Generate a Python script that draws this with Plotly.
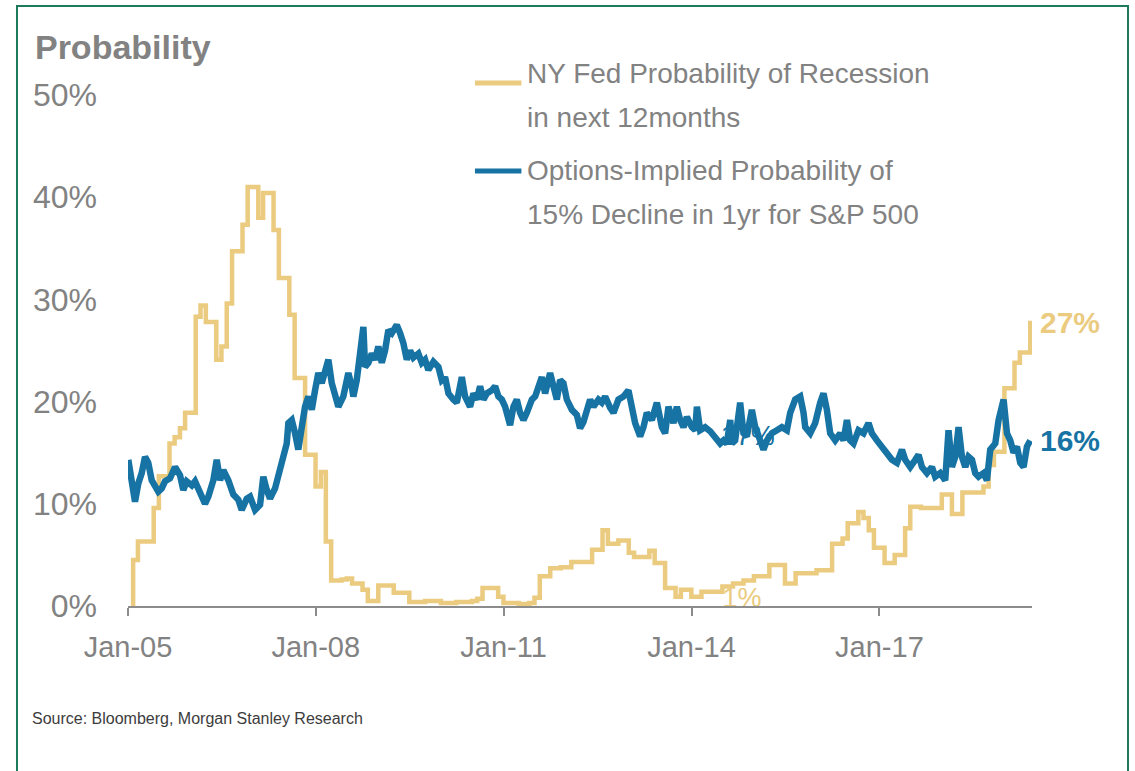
import plotly.graph_objects as go
import pandas as pd

# ---------------- data ----------------
# NY Fed probability of recession in next 12 months (monthly, %), Jan-2005 .. Jun-2019
gold_vals = [
    0, 4.5, 6.3, 6.3, 6.3, 9.6, 12.7, 12.7, 15.9, 16.5,
    17.4, 18.9, 18.9, 28.3, 29.4, 27.8, 27.8, 24.1, 25.4, 29.6,
    34.7, 34.7, 37.3, 41.0, 41.0, 38.0, 40.4, 40.4, 36.8, 32.1,
    32.1, 28.5, 22.3, 22.3, 14.8, 14.8, 11.7, 13.1, 6.3, 2.5,
    2.5, 2.6, 2.7, 2.2, 2.2, 1.6, 0.5, 0.5, 2.0, 2.0,
    2.0, 1.3, 1.3, 1.3, 0.4, 0.4, 0.4, 0.5, 0.5, 0.5,
    0.3, 0.3, 0.3, 0.4, 0.4, 0.4, 0.5, 0.7, 1.75, 1.75,
    1.75, 0.9, 0.3, 0.3, 0.3, 0.2, 0.2, 0.3, 0.8, 2.9,
    2.9, 3.7, 3.7, 3.8, 3.8, 4.3, 4.3, 4.3, 4.3, 5.5,
    5.5, 7.4, 6.1, 6.1, 6.4, 6.4, 5.2, 4.8, 4.8, 4.8,
    5.4, 4.2, 4.2, 1.75, 1.75, 0.9, 1.6, 1.6, 0.9, 0.9,
    1.4, 1.4, 1.4, 1.4, 1.9, 1.9, 2.2, 2.2, 2.5, 2.5,
    2.9, 2.9, 2.9, 4.0, 4.0, 4.0, 2.2, 2.2, 3.2, 3.2,
    3.2, 3.2, 3.5, 3.5, 3.5, 6.1, 6.1, 6.6, 8.1, 8.1,
    9.2, 8.6, 7.4, 5.7, 5.7, 4.2, 4.2, 5.0, 5.0, 7.6,
    9.7, 9.7, 9.6, 9.6, 9.6, 9.6, 10.9, 10.9, 9.0, 9.0,
    11.1, 11.1, 11.1, 11.1, 11.7, 13.8, 15.1, 15.1, 21.3, 21.3,
    23.8, 24.8, 24.8, 27.7,
]

# Options-implied probability of 15% decline in 1yr for S&P 500 (%)
# time given in years elapsed since 1 Jan 2005
blue_years = [
    0.005, 0.032, 0.085, 0.112, 0.165, 0.219, 0.272, 0.324, 0.379, 0.431,
    0.484, 0.538, 0.591, 0.671, 0.751, 0.831, 0.883, 0.938, 1.018, 1.070,
    1.150, 1.230, 1.283, 1.363, 1.417, 1.470, 1.522, 1.602, 1.682, 1.762,
    1.816, 1.896, 1.949, 2.029, 2.109, 2.161, 2.216, 2.268, 2.348, 2.401,
    2.481, 2.535, 2.561, 2.615, 2.668, 2.720, 2.775, 2.827, 2.880, 2.935,
    2.987, 3.040, 3.094, 3.147, 3.200, 3.254, 3.307, 3.359, 3.439, 3.519,
    3.573, 3.599, 3.653, 3.706, 3.759, 3.786, 3.839, 3.893, 3.946, 3.998,
    4.053, 4.105, 4.158, 4.212, 4.292, 4.345, 4.398, 4.452, 4.505, 4.558,
    4.637, 4.692, 4.744, 4.797, 4.877, 4.957, 5.011, 5.064, 5.117, 5.196,
    5.251, 5.331, 5.383, 5.463, 5.516, 5.570, 5.623, 5.676, 5.730, 5.810,
    5.863, 5.915, 5.970, 6.022, 6.075, 6.102, 6.155, 6.209, 6.262, 6.315,
    6.369, 6.449, 6.502, 6.554, 6.609, 6.661, 6.741, 6.794, 6.848, 6.901,
    6.954, 7.008, 7.088, 7.168, 7.220, 7.273, 7.327, 7.380, 7.433, 7.513,
    7.567, 7.620, 7.700, 7.753, 7.832, 7.912, 7.992, 8.046, 8.099, 8.179,
    8.232, 8.286, 8.366, 8.446, 8.526, 8.578, 8.631, 8.711, 8.765, 8.818,
    8.871, 8.925, 9.005, 9.058, 9.085, 9.137, 9.217, 9.297, 9.377, 9.457,
    9.510, 9.564, 9.617, 9.644, 9.696, 9.776, 9.829, 9.883, 9.963, 10.016,
    10.096, 10.149, 10.203, 10.283, 10.363, 10.442, 10.522, 10.575, 10.655, 10.735,
    10.788, 10.815, 10.895, 10.974, 11.054, 11.107, 11.161, 11.214, 11.294, 11.374,
    11.427, 11.481, 11.534, 11.586, 11.666, 11.746, 11.826, 11.880, 11.960, 12.040,
    12.120, 12.200, 12.280, 12.360, 12.412, 12.492, 12.572, 12.625, 12.679, 12.759,
    12.839, 12.891, 12.971, 13.051, 13.104, 13.158, 13.211, 13.264, 13.318, 13.371,
    13.423, 13.478, 13.530, 13.583, 13.663, 13.717, 13.770, 13.850, 13.903, 13.983,
    14.037, 14.089, 14.142, 14.196, 14.249, 14.302, 14.356, 14.409,
]
blue_vals = [
    14.3, 13.3, 10.7, 10.2, 12.0, 13.0, 14.6, 14.0, 12.3, 11.8,
    11.2, 11.5, 12.2, 12.5, 13.6, 12.8, 11.35, 12.2, 11.8, 12.2,
    11.2, 10.0, 10.7, 12.3, 14.3, 12.3, 13.3, 12.3, 10.9, 10.4,
    9.4, 10.5, 10.7, 9.4, 9.9, 12.65, 11.35, 10.5, 11.5, 12.65,
    14.3, 15.9, 17.9, 18.2, 16.9, 15.3, 17.5, 19.5, 20.5, 19.2,
    21.1, 22.8, 21.8, 23.1, 24.1, 21.8, 20.5, 19.5, 20.5, 22.8,
    21.5, 20.5, 22.1, 24.4, 27.3, 23.4, 23.8, 24.7, 24.1, 25.4,
    23.8, 25.0, 27.0, 26.7, 27.5, 26.7, 25.7, 24.1, 25.0, 24.3,
    24.7, 23.8, 24.1, 23.1, 23.9, 23.4, 22.1, 22.4, 20.8, 20.2,
    19.9, 22.4, 20.5, 19.5, 20.8, 20.2, 21.5, 20.2, 20.8, 21.1,
    21.5, 20.5, 20.2, 19.5, 18.5, 17.7, 19.5, 20.2, 18.9, 18.2,
    18.9, 20.2, 20.5, 21.5, 22.4, 20.8, 22.8, 21.5, 20.2, 22.1,
    21.8, 20.2, 19.2, 18.7, 17.4, 18.0, 19.2, 20.2, 19.5, 20.2,
    19.9, 20.5, 19.4, 18.9, 20.2, 20.5, 21.1, 19.2, 17.9, 16.6,
    17.5, 18.9, 18.2, 19.9, 17.5, 16.9, 19.5, 17.9, 19.5, 18.2,
    17.5, 18.5, 17.5, 17.2, 19.5, 17.2, 17.5, 17.1, 16.6, 15.9,
    16.2, 15.9, 18.2, 15.9, 16.2, 19.9, 16.9, 16.6, 19.2, 17.5,
    16.2, 15.3, 16.2, 16.9, 17.2, 17.5, 17.2, 18.9, 20.2, 20.5,
    18.9, 17.5, 16.9, 17.9, 19.9, 20.8, 19.2, 16.9, 16.2, 16.9,
    16.2, 18.2, 16.2, 15.9, 17.2, 16.9, 17.9, 16.9, 16.2, 15.6,
    15.0, 14.3, 14.0, 15.3, 14.3, 13.6, 14.3, 14.8, 13.6, 13.0,
    13.6, 12.65, 13.0, 12.3, 17.2, 13.6, 14.6, 17.5, 14.6, 13.6,
    14.6, 14.3, 13.0, 12.65, 13.0, 12.3, 15.3, 15.9, 18.2, 20.2,
    16.9, 16.2, 15.0, 15.6, 14.0, 13.6, 15.6, 16.2,
]

x_tick_dates = ["2005-01-01", "2008-01-01", "2011-01-01", "2014-01-01", "2017-01-01"]
x_tick_labels = ["Jan-05", "Jan-08", "Jan-11", "Jan-14", "Jan-17"]
y_tick_vals = [0, 10, 20, 30, 40, 50]
y_tick_labels = ["0%", "10%", "20%", "30%", "40%", "50%"]
x_range = ["2005-01-01", "2019-06-10"]

series_names = ["NY Fed Probability of Recession", "in next 12months",
                "Options-Implied Probability of", "15% Decline in 1yr for S&P 500"]
end_labels = ["27%", "16%"]
# faint leftover labels visible in the original (partly hidden behind lines)
ghost_dates = ["2014-11-25", "2014-10-22"]
ghost_vals = [16.4, 0.6]
ghost_texts = ["17%", "1%"]

GOLD = "#EBCB7F"
BLUE = "#1673A3"
GRAY = "#828282"
FONT = "Liberation Sans, Arial, sans-serif"

gold_dates = pd.date_range("2005-01-31", periods=len(gold_vals), freq=pd.offsets.MonthEnd())
base = pd.Timestamp("2005-01-01")
blue_dates = [base + pd.Timedelta(days=y * 365.25) for y in blue_years]

fig = go.Figure()

# leftover labels underneath the lines
fig.add_trace(go.Scatter(x=[ghost_dates[0]], y=[ghost_vals[0]], mode="text",
                         text=[ghost_texts[0]], textfont=dict(family=FONT, size=27, color=BLUE),
                         hoverinfo="skip", showlegend=False))
fig.add_trace(go.Scatter(x=[ghost_dates[1]], y=[ghost_vals[1]], mode="text",
                         text=[ghost_texts[1]], textfont=dict(family=FONT, size=27, color=GOLD),
                         hoverinfo="skip", showlegend=False, cliponaxis=False))

fig.add_trace(go.Scatter(x=gold_dates, y=gold_vals, mode="lines",
                         line=dict(color=GOLD, width=4.5, shape="vh"),
                         name=series_names[0] + " " + series_names[1], showlegend=False))
fig.add_trace(go.Scatter(x=blue_dates, y=blue_vals, mode="lines",
                         line=dict(color=BLUE, width=6.5),
                         name=series_names[2] + " " + series_names[3], showlegend=False))

annotations = []
# legend text
legend_y = [1.0415, 0.956, 0.8513, 0.7661]
for txt, yy in zip(series_names, legend_y):
    annotations.append(dict(xref="paper", yref="paper", x=0.4392, y=yy, text=txt,
                            showarrow=False, xanchor="left", yanchor="middle",
                            font=dict(family=FONT, size=28, color=GRAY)))
# end labels
annotations.append(dict(xref="x", yref="y", x=blue_dates[-1], y=gold_vals[-1], text="<b>%s</b>" % end_labels[0],
                        showarrow=False, xanchor="left", yanchor="middle", xshift=8,
                        font=dict(family=FONT, size=30, color=GOLD)))
annotations.append(dict(xref="x", yref="y", x=blue_dates[-1], y=blue_vals[-1], text="<b>%s</b>" % end_labels[1],
                        showarrow=False, xanchor="left", yanchor="middle", xshift=8,
                        font=dict(family=FONT, size=30, color=BLUE)))
# source
annotations.append(dict(xref="paper", yref="paper", x=-0.1084, y=-0.2192,
                        text="Source: Bloomberg, Morgan Stanley Research",
                        showarrow=False, xanchor="left", yanchor="middle",
                        font=dict(family=FONT, size=16, color="#3C3C3C")))

shapes = [
    # legend line samples
    dict(type="line", xref="paper", yref="paper", x0=0.3838, x1=0.4352, y0=1.0235, y1=1.0235,
         line=dict(color=GOLD, width=5)),
    dict(type="line", xref="paper", yref="paper", x0=0.3838, x1=0.4352, y0=0.8513, y1=0.8513,
         line=dict(color=BLUE, width=5)),
    # green frame
    dict(type="rect", xref="paper", yref="paper", x0=-0.1228, x1=1.1062, y0=-0.36, y1=1.1742,
         line=dict(color="#1E7B5A", width=2), fillcolor="rgba(0,0,0,0)", layer="above"),
]

fig.update_layout(
    width=1135, height=771,
    margin=dict(l=128, r=103, t=95, b=165),
    paper_bgcolor="white", plot_bgcolor="white",
    showlegend=False,
    title=dict(text="<b>Probability</b>", x=0.0308, y=0.939, xanchor="left", yanchor="middle",
               xref="container", yref="container",
               font=dict(family=FONT, size=34, color=GRAY)),
    annotations=annotations,
    shapes=shapes,
    xaxis=dict(type="date", range=x_range, tickvals=x_tick_dates, ticktext=x_tick_labels,
               ticks="outside", ticklen=8, tickwidth=2, tickcolor="#8C8C8C",
               showline=True, linecolor="#8C8C8C", linewidth=2,
               showgrid=False, zeroline=False, ticklabelstandoff=6,
               tickfont=dict(family=FONT, size=29, color=GRAY)),
    yaxis=dict(range=[0, 50], tickvals=y_tick_vals, ticktext=y_tick_labels,
               showgrid=False, zeroline=False, showline=False, ticks="",
               ticklabelstandoff=30,
               tickfont=dict(family=FONT, size=32, color=GRAY)),
)

fig.write_html("out.html", config={"displayModeBar": False},
               post_script="document.body.style.margin='0';")
